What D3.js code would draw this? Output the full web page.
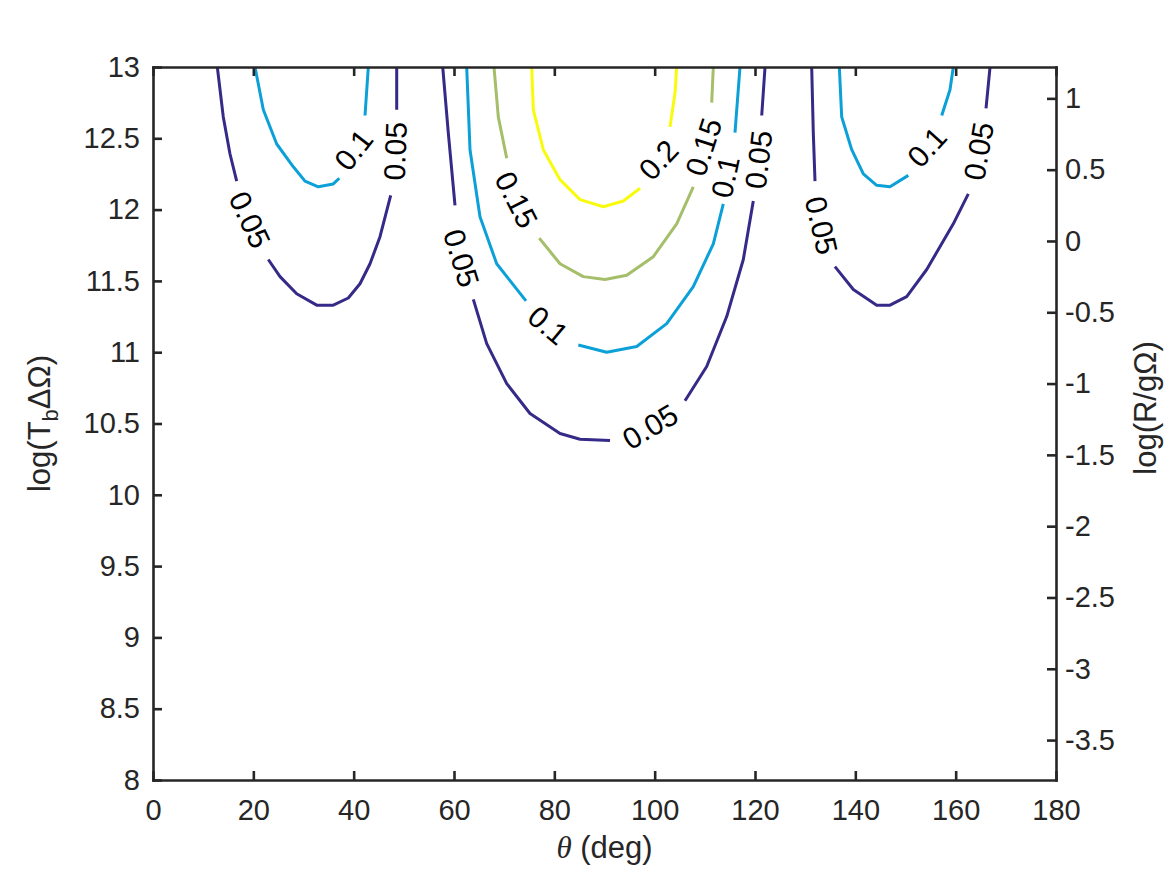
<!DOCTYPE html>
<html>
<head>
<meta charset="utf-8">
<script src="https://cdn.jsdelivr.net/npm/d3@7"></script>
<style>
  html, body { margin: 0; padding: 0; background: #ffffff; }
  svg { display: block; }
</style>
</head>
<body>
<div id="chart"></div>
<script>
// contour levels drawn in the figure
const levels = [0.05, 0.1, 0.15, 0.2];

// tick values
const thetaTicks = [0, 20, 40, 60, 80, 100, 120, 140, 160, 180];
const logTTicks = [8, 8.5, 9, 9.5, 10, 10.5, 11, 11.5, 12, 12.5, 13];
const logRTicks = [-3.5, -3, -2.5, -2, -1.5, -1, -0.5, 0, 0.5, 1];

// contour lines as [theta (deg), log(Tb dOmega)];
// null marks the gap left for an inline label
const leftLobe005 = [[12.82, 13], [14.01, 12.65], [15.35, 12.39], [16.68, 12.20], null,
  [22.98, 11.65], [25.32, 11.53], [28.64, 11.41], [32.63, 11.33], [35.94, 11.33], [38.93, 11.38],
  [41.26, 11.48], [43.26, 11.62], [45.25, 11.81], [47.38, 12.10], null,
  [48.58, 12.70], [48.58, 13]];
const leftLobe010 = [[20.33, 13], [21.99, 12.70], [24.66, 12.46], [27.97, 12.30], [30.30, 12.20],
  [32.95, 12.16], [35.94, 12.18], [37.14, 12.22], null,
  [42.26, 12.66], [42.92, 13]];
const midLobe005 = [[57.75, 13], [58.86, 12.54], [60.20, 12.03], null,
  [63.85, 11.37], [66.52, 11.06], [70.51, 10.78], [75.15, 10.57], [81.13, 10.43], [85.12, 10.39],
  [91.10, 10.38], null,
  [106.05, 10.66], [110.37, 10.90], [114.36, 11.25], [117.67, 11.65], [119.66, 12.06], null,
  [121.34, 12.66], [122.0, 13]];
const midLobe010 = [[62.53, 13], [63.19, 12.42], [65.18, 11.95], [68.51, 11.62], [74.35, 11.36], null,
  [84.78, 11.05], [90.44, 11.00], [96.42, 11.04], [102.40, 11.20], [107.70, 11.46], [111.69, 11.76],
  [113.68, 12.04], null,
  [116.01, 12.54], [117.01, 13]];
const midLobe015 = [[67.97, 13], [68.83, 12.65], [70.51, 12.36], null,
  [77.00, 11.80], [81.13, 11.62], [85.77, 11.53], [90.10, 11.51], [94.43, 11.54], [99.73, 11.67],
  [104.39, 11.90], [107.70, 12.16], null,
  [111.37, 12.75], [111.69, 13]];
const midLobe020 = [[75.49, 13], [75.81, 12.70], [77.80, 12.42], [81.13, 12.21], [85.12, 12.07],
  [89.76, 12.02], [93.75, 12.06], [97.08, 12.15], null,
  [103.06, 12.58], [104.06, 12.82], [104.39, 13]];
const rightLobe005 = [[131.30, 13], [131.62, 12.54], [131.96, 12.20], null,
  [135.94, 11.60], [139.60, 11.44], [144.26, 11.33], [146.91, 11.33], [150.24, 11.39], [154.23, 11.58],
  [159.53, 11.90], [162.52, 12.11], null,
  [166.05, 12.71], [166.85, 13]];
const rightLobe010 = [[136.81, 13], [137.28, 12.65], [139.28, 12.42], [141.59, 12.25], [144.26, 12.17],
  [146.91, 12.16], [150.56, 12.24], null,
  [157.22, 12.66], [158.87, 12.84], [159.53, 13]];

// inline labels: [level, theta, logT, rotation in deg]
const contourLabels = [
  [0.05, 19.34, 11.93, 65], [0.1, 39.93, 12.42, -52], [0.05, 48.24, 12.41, -88],
  [0.05, 61.54, 11.66, 73], [0.15, 72.50, 12.07, 63], [0.1, 78.80, 11.19, 40],
  [0.05, 99.07, 10.48, -31], [0.2, 100.73, 12.35, -47], [0.15, 109.70, 12.44, -72],
  [0.1, 114.02, 12.23, -78], [0.05, 120.66, 12.35, -83],
  [0.05, 133.30, 11.89, 77], [0.1, 154.23, 12.44, -48], [0.05, 164.52, 12.41, -80]
];

const contourLines = [
  { level: 0.05, pts: leftLobe005 }, { level: 0.1, pts: leftLobe010 },
  { level: 0.05, pts: midLobe005 }, { level: 0.1, pts: midLobe010 },
  { level: 0.15, pts: midLobe015 }, { level: 0.2, pts: midLobe020 },
  { level: 0.05, pts: rightLobe005 }, { level: 0.1, pts: rightLobe010 }
];

const width = 1167, height = 875;
const plot = { left: 153, right: 1056, top: 67, bottom: 780 };
const axisColor = '#262626';
const font = "'Liberation Sans', Arial, Helvetica, sans-serif";

// parula-like colours for the four levels
const color = d3.scaleOrdinal()
  .domain(levels)
  .range(['#352a87', '#0ca0d8', '#a5be6a', '#f9fb0e']);

const x = d3.scaleLinear().domain([0, 180]).range([plot.left, plot.right]);
const yLeft = d3.scaleLinear().domain([8, 13]).range([plot.bottom, plot.top]);
const yRight = d3.scaleLinear().domain([-3.78, 1.22]).range([plot.bottom, plot.top]);

const svg = d3.select('#chart')
  .append('svg')
  .attr('width', width)
  .attr('height', height)
  .style('font-family', font);

svg.append('rect').attr('width', width).attr('height', height).attr('fill', '#fff');

// contour lines
const line = d3.line()
  .defined(d => d !== null)
  .x(d => x(d[0]))
  .y(d => yLeft(d[1]));

svg.append('g')
  .attr('fill', 'none')
  .attr('stroke-width', 3)
  .attr('stroke-linejoin', 'round')
  .selectAll('path')
  .data(contourLines)
  .join('path')
  .attr('stroke', d => color(d.level))
  .attr('d', d => line(d.pts));

// inline labels
svg.append('g')
  .selectAll('text')
  .data(contourLabels)
  .join('text')
  .attr('transform', d => `translate(${x(d[1])},${yLeft(d[2])}) rotate(${d[3]})`)
  .attr('text-anchor', 'middle')
  .attr('dy', '0.36em')
  .attr('font-size', 30)
  .attr('fill', '#000')
  .text(d => String(d[0]));

// axes
function styleAxis(g) {
  g.select('.domain')
    .attr('stroke', axisColor)
    .attr('stroke-width', 2.6)
    .attr('stroke-linecap', 'square');
  g.selectAll('.tick line').attr('stroke', axisColor).attr('stroke-width', 2.6);
  g.selectAll('.tick text').attr('fill', axisColor).attr('font-size', 29).attr('font-family', font);
}

svg.append('g')
  .attr('transform', `translate(0,${plot.bottom})`)
  .call(d3.axisBottom(x).tickValues(thetaTicks).tickSize(-9).tickSizeOuter(0)
    .tickPadding(19).tickFormat(d => String(d)))
  .call(styleAxis);

svg.append('g')
  .attr('transform', `translate(0,${plot.top})`)
  .call(d3.axisTop(x).tickValues(thetaTicks).tickSize(-9).tickSizeOuter(0).tickFormat(''))
  .call(styleAxis);

svg.append('g')
  .attr('transform', `translate(${plot.left},0)`)
  .call(d3.axisLeft(yLeft).tickValues(logTTicks).tickSize(-9).tickSizeOuter(0)
    .tickPadding(13).tickFormat(d => String(d)))
  .call(styleAxis);

svg.append('g')
  .attr('transform', `translate(${plot.right},0)`)
  .call(d3.axisRight(yRight).tickValues(logRTicks).tickSize(-9).tickSizeOuter(0)
    .tickPadding(9).tickFormat(d => String(d)))
  .call(styleAxis);

// axis titles
const xTitle = svg.append('text')
  .attr('x', (plot.left + plot.right) / 2)
  .attr('y', 858)
  .attr('text-anchor', 'middle')
  .attr('font-size', 31)
  .attr('fill', axisColor);
xTitle.append('tspan')
  .attr('font-family', "'Liberation Serif', 'DejaVu Serif', serif")
  .attr('font-style', 'italic')
  .text('θ');
xTitle.append('tspan').text(' (deg)');

const yTitle = svg.append('text')
  .attr('transform', `translate(50,${(plot.top + plot.bottom) / 2}) rotate(-90)`)
  .attr('text-anchor', 'middle')
  .attr('font-size', 31)
  .attr('fill', axisColor);
yTitle.append('tspan').text('log(T');
yTitle.append('tspan').attr('font-size', 22).attr('dy', 8).text('b');
yTitle.append('tspan').attr('dy', -8).text('ΔΩ)');

svg.append('text')
  .attr('transform', `translate(1156,408) rotate(-90)`)
  .attr('text-anchor', 'middle')
  .attr('font-size', 31)
  .attr('fill', axisColor)
  .text('log(R/gΩ)');
</script>
</body>
</html>
